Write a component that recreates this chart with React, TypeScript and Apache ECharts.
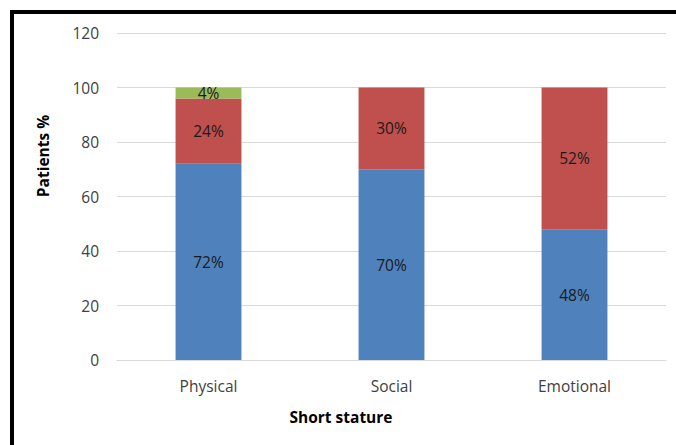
import React, { useEffect, useRef } from "react";
import * as echarts from "echarts";

const categories = ["Physical", "Social", "Emotional"];
const blueValues = [72, 70, 48];
const redValues = [24, 30, 52];
const greenValues = [4, 0, 0];
const yTicks = { min: 0, max: 120, interval: 20 };

const FONT = "Open Sans";

export default function App() {
  const ref = useRef<HTMLDivElement>(null);
  useEffect(() => {
    document.body.style.margin = "0";
    const chart = echarts.init(ref.current!, null, { renderer: "svg" });
    const label = (show: boolean) => ({
      show,
      position: "inside",
      formatter: (p: any) => (p.value > 0 ? p.value + "%" : ""),
      color: "#1a1a1a",
      fontFamily: FONT,
      fontSize: 15.5,
    });
    chart.setOption({
      animation: false,
      backgroundColor: "#ffffff",
      grid: { left: 117, right: 10, top: 33, bottom: 85 },
      xAxis: {
        type: "category",
        data: categories,
        axisLine: { show: true, lineStyle: { color: "#d9d9d9", width: 1 } },
        axisTick: { show: false },
        axisLabel: { color: "#404040", fontFamily: FONT, fontSize: 15.5, margin: 18 },
      },
      yAxis: {
        type: "value",
        min: yTicks.min,
        max: yTicks.max,
        interval: yTicks.interval,
        axisLine: { show: false },
        axisTick: { show: false },
        splitLine: { lineStyle: { color: "#d9d9d9", width: 1 } },
        axisLabel: { color: "#404040", fontFamily: FONT, fontSize: 15.5, margin: 18 },
      },
      series: [
        {
          type: "bar",
          stack: "t",
          data: blueValues,
          barWidth: "36%",
          itemStyle: { color: "#4F81BD" },
          label: label(true),
        },
        {
          type: "bar",
          stack: "t",
          data: redValues,
          itemStyle: { color: "#C0504D" },
          label: label(true),
        },
        {
          type: "bar",
          stack: "t",
          data: greenValues,
          itemStyle: { color: "#9BBB59" },
          label: label(true),
        },
      ],
      graphic: [
        { type: "rect", shape: { x: 10, y: 10, width: 666, height: 4 }, style: { fill: "#000" } },
        { type: "rect", shape: { x: 10, y: 10, width: 4, height: 435 }, style: { fill: "#000" } },
        {
          type: "text",
          x: 43,
          y: 156,
          rotation: Math.PI / 2,
          style: {
            text: "Patients %",
            fontFamily: FONT,
            fontWeight: "bold",
            fontSize: 15.5,
            fill: "#000",
            align: "center",
            verticalAlign: "middle",
          },
        },
        {
          type: "text",
          x: 341,
          y: 417,
          style: {
            text: "Short stature",
            fontFamily: FONT,
            fontWeight: "bold",
            fontSize: 15.5,
            fill: "#000",
            align: "center",
            verticalAlign: "middle",
          },
        },
      ],
    });
    return () => chart.dispose();
  }, []);
  return <div ref={ref} style={{ width: 676, height: 445 }} />;
}
